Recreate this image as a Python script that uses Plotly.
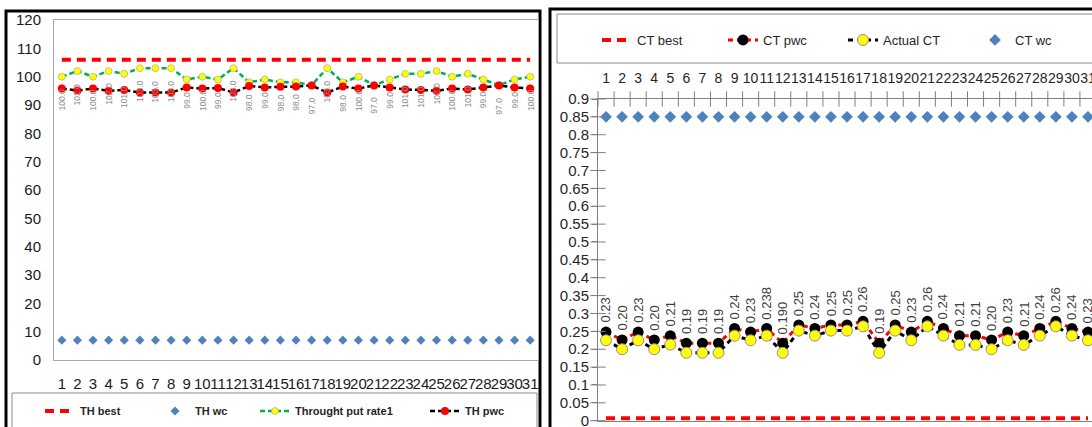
import plotly.graph_objects as go

W, H = 1092, 427
FONT = "Liberation Sans, Arial, sans-serif"

def fx(p):
    return p / W

def fy(p):
    return (H - p) / H

# ---------------- data: left chart (throughput) ----------------
days = list(range(1, 32))
day_labels = [str(d) for d in days]

th_best = [106, 106, 106, 106, 106, 106, 106, 106, 106, 106, 106, 106, 106, 106, 106, 106,
           106, 106, 106, 106, 106, 106, 106, 106, 106, 106, 106, 106, 106, 106, 106]
th_wc = [7, 7, 7, 7, 7, 7, 7, 7, 7, 7, 7, 7, 7, 7, 7, 7,
         7, 7, 7, 7, 7, 7, 7, 7, 7, 7, 7, 7, 7, 7, 7]
throughput = [100, 102, 100, 102, 101, 103, 103, 103, 99, 100, 99, 103, 98, 99, 98, 98,
              97, 103, 98, 100, 97, 99, 101, 101, 102, 100, 101, 99, 97, 99, 100]
th_pwc = [95.8, 95.1, 95.8, 95.0, 95.3, 94.4, 94.4, 94.4, 96.2, 95.8, 96.0, 94.4, 96.7, 96.2, 96.4, 96.5,
          96.9, 94.4, 96.5, 95.8, 96.9, 96.2, 95.5, 95.3, 95.0, 95.8, 95.5, 96.2, 96.9, 96.2, 95.8]

left_yticks = [0, 10, 20, 30, 40, 50, 60, 70, 80, 90, 100, 110, 120]

# ---------------- data: right chart (cycle time) ----------------
ct_best = [0.007, 0.007, 0.007, 0.007, 0.007, 0.007, 0.007, 0.007, 0.007, 0.007, 0.007, 0.007, 0.007, 0.007, 0.007, 0.007,
           0.007, 0.007, 0.007, 0.007, 0.007, 0.007, 0.007, 0.007, 0.007, 0.007, 0.007, 0.007, 0.007, 0.007, 0.007]
ct_wc = [0.85, 0.85, 0.85, 0.85, 0.85, 0.85, 0.85, 0.85, 0.85, 0.85, 0.85, 0.85, 0.85, 0.85, 0.85, 0.85,
         0.85, 0.85, 0.85, 0.85, 0.85, 0.85, 0.85, 0.85, 0.85, 0.85, 0.85, 0.85, 0.85, 0.85, 0.85]
actual_ct = [0.225, 0.200, 0.225, 0.200, 0.213, 0.190, 0.190, 0.190, 0.238, 0.225, 0.238, 0.190, 0.252, 0.238, 0.252, 0.252,
             0.264, 0.190, 0.252, 0.225, 0.264, 0.238, 0.212, 0.212, 0.200, 0.225, 0.212, 0.238, 0.264, 0.238, 0.225]
ct_pwc = [0.248, 0.226, 0.248, 0.226, 0.238, 0.217, 0.217, 0.217, 0.258, 0.248, 0.258, 0.217, 0.268, 0.258, 0.268, 0.268,
          0.278, 0.217, 0.268, 0.248, 0.278, 0.258, 0.238, 0.238, 0.226, 0.248, 0.238, 0.258, 0.278, 0.258, 0.248]
actual_ct_labels = ["0.23", "0.20", "0.23", "0.20", "0.21", "0.19", "0.19", "0.19", "0.24", "0.23", "0.238", "0.190",
                    "0.25", "0.24", "0.25", "0.25", "0.26", "0.19", "0.25", "0.23", "0.26", "0.24", "0.21", "0.21",
                    "0.20", "0.23", "0.21", "0.24", "0.26", "0.24", "0.23"]
right_yticks = [0, 0.05, 0.1, 0.15, 0.2, 0.25, 0.3, 0.35, 0.4, 0.45, 0.5, 0.55, 0.6, 0.65, 0.7, 0.75, 0.8, 0.85, 0.9]
right_ytick_text = ["0", "0.05", "0.1", "0.15", "0.2", "0.25", "0.3", "0.35", "0.4", "0.45", "0.5", "0.55",
                    "0.6", "0.65", "0.7", "0.75", "0.8", "0.85", "0.9"]

fig = go.Figure()

# ---------- left chart traces ----------
fig.add_trace(go.Scatter(x=days, y=th_best, mode="lines", name="TH best",
                         line=dict(color="#ff0000", width=4, dash="9px,6px"),
                         xaxis="x", yaxis="y", legend="legend"))
fig.add_trace(go.Scatter(x=days, y=th_wc, mode="markers", name="TH wc",
                         marker=dict(symbol="diamond", color="#4f81bd", size=7),
                         xaxis="x", yaxis="y", legend="legend2"))
fig.add_trace(go.Scatter(x=days, y=throughput, mode="lines+markers", name="Throught put rate1",
                         line=dict(color="#00b050", width=2.5, dash="5px,3px"),
                         marker=dict(symbol="circle", color="#ffff00", size=7,
                                     line=dict(color="#a0a0a0", width=0.6)),
                         xaxis="x", yaxis="y", legend="legend3"))
fig.add_trace(go.Scatter(x=days, y=th_pwc, mode="lines+markers", name="TH pwc",
                         line=dict(color="#000000", width=2.5, dash="5px,3px"),
                         marker=dict(symbol="circle", color="#ff0000", size=8),
                         xaxis="x", yaxis="y", legend="legend4"))

# ---------- right chart traces ----------
fig.add_trace(go.Scatter(x=days, y=ct_best, mode="lines", name="CT best",
                         line=dict(color="#ff0000", width=4, dash="9px,6px"),
                         xaxis="x2", yaxis="y2", legend="legend5", cliponaxis=False))
fig.add_trace(go.Scatter(x=days, y=ct_pwc, mode="lines+markers", name="CT pwc",
                         line=dict(color="#ff0000", width=3, dash="5px,4px"),
                         marker=dict(symbol="circle", color="#000000", size=11),
                         xaxis="x2", yaxis="y2", legend="legend6"))
fig.add_trace(go.Scatter(x=days, y=actual_ct, mode="lines+markers", name="Actual CT",
                         line=dict(color="#000000", width=3, dash="5px,4px"),
                         marker=dict(symbol="circle", color="#ffff00", size=11,
                                     line=dict(color="#a08898", width=1)),
                         xaxis="x2", yaxis="y2", legend="legend7"))
fig.add_trace(go.Scatter(x=days, y=ct_wc, mode="markers", name="CT wc",
                         marker=dict(symbol="diamond", color="#4f81bd", size=9),
                         xaxis="x2", yaxis="y2", legend="legend8"))

# cross tick marks for the right chart (category boundaries on top axis, value ticks on left axis)
boundaries = [d - 0.5 for d in days] + [days[-1] + 0.5]
fig.add_trace(go.Scatter(x=boundaries, y=[right_yticks[-1]] * len(boundaries), mode="markers",
                         marker=dict(symbol="line-ns", size=11, line=dict(color="#7f7f7f", width=1)),
                         xaxis="x2", yaxis="y2", showlegend=False, cliponaxis=False, hoverinfo="skip"))
fig.add_trace(go.Scatter(x=[0.5] * len(right_yticks), y=right_yticks, mode="markers",
                         marker=dict(symbol="line-ew", size=11, line=dict(color="#7f7f7f", width=1)),
                         xaxis="x2", yaxis="y2", showlegend=False, cliponaxis=False, hoverinfo="skip"))

annotations = []
for d, v in zip(days, throughput):
    annotations.append(dict(x=d, y=v, xref="x", yref="y", text=f"{v:.1f}", showarrow=False,
                            textangle=-90, yanchor="top", yshift=-10,
                            font=dict(family=FONT, size=8.5, color="#8c8c8c")))
for d, v, lab in zip(days, ct_pwc, actual_ct_labels):
    annotations.append(dict(x=d, y=v, xref="x2", yref="y2", text=lab, showarrow=False,
                            textangle=-90, yanchor="bottom", yshift=7,
                            font=dict(family=FONT, size=13, color="#404040")))

shapes = [
    # left chart outer frame
    dict(type="rect", xref="paper", yref="paper", x0=fx(6), x1=fx(540), y0=fy(440), y1=fy(11),
         line=dict(color="#000000", width=3), layer="below"),
    # left legend box
    dict(type="rect", xref="paper", yref="paper", x0=fx(12), x1=fx(537), y0=fy(440), y1=fy(393),
         line=dict(color="#8c8c8c", width=1), layer="below"),
    # right chart outer frame
    dict(type="rect", xref="paper", yref="paper", x0=fx(550), x1=fx(1110), y0=fy(440), y1=fy(9),
         line=dict(color="#000000", width=3), layer="below"),
    # right legend box
    dict(type="rect", xref="paper", yref="paper", x0=fx(557), x1=fx(1110), y0=fy(63), y1=fy(14),
         line=dict(color="#8c8c8c", width=1), layer="below"),
]

def legend_at(px_x, px_y, size, bold=False, color="#262626"):
    return dict(x=fx(px_x), y=fy(px_y), xanchor="left", yanchor="middle", orientation="h",
                bgcolor="rgba(0,0,0,0)", borderwidth=0,
                font=dict(family=FONT, size=size, color=color,
                          weight="bold" if bold else "normal"))

fig.update_layout(
    width=W, height=H,
    margin=dict(l=0, r=0, t=0, b=0, autoexpand=False),
    paper_bgcolor="white", plot_bgcolor="white",
    font=dict(family=FONT, color="#1a1a1a"),
    xaxis=dict(domain=[fx(54), fx(538)], range=[0.5, 31.5], tickvals=days, ticktext=day_labels,
               tickangle=0, automargin=False, ticklabeloverflow="allow",
               showgrid=False, zeroline=False, showline=True, mirror=True, linecolor="#a6a6a6",
               ticks="outside", ticklen=10, tickcolor="rgba(0,0,0,0)",
               tickfont=dict(family=FONT, size=15, color="#1a1a1a"), anchor="y"),
    yaxis=dict(domain=[fy(360), fy(20)], range=[0, 120], tickvals=left_yticks, automargin=False,
               ticklabeloverflow="allow",
               showgrid=False, zeroline=False, showline=True, mirror=True, linecolor="#a6a6a6",
               ticks="outside", ticklen=9, tickcolor="rgba(0,0,0,0)",
               tickfont=dict(family=FONT, size=15, color="#1a1a1a"), anchor="x"),
    xaxis2=dict(domain=[fx(598), 1.0], range=[0.5, 31.25], tickvals=days, ticktext=day_labels,
                tickangle=0, automargin=False, ticklabeloverflow="allow",
                side="top", showgrid=False, zeroline=False, showline=True, mirror=True,
                linecolor="#7f7f7f", ticks="outside", ticklen=9, tickcolor="rgba(0,0,0,0)",
                tickfont=dict(family=FONT, size=14, color="#262626"), anchor="y2"),
    yaxis2=dict(domain=[fy(420.7), fy(99)], range=[0, 0.9], tickvals=right_yticks, ticktext=right_ytick_text,
                automargin=False, ticklabeloverflow="allow",
                showgrid=False, zeroline=False, showline=True, linecolor="#7f7f7f",
                ticks="outside", ticklen=5, tickcolor="#7f7f7f",
                tickfont=dict(family=FONT, size=15, color="#262626"), anchor="x2"),
    legend=legend_at(40, 411, 11, bold=True),
    legend2=legend_at(155, 411, 11, bold=True),
    legend3=legend_at(255, 411, 11, bold=True),
    legend4=legend_at(425, 411, 11, bold=True),
    legend5=legend_at(597, 40, 13),
    legend6=legend_at(723, 40, 13),
    legend7=legend_at(843, 40, 13),
    legend8=legend_at(975, 40, 13),
    annotations=annotations,
    shapes=shapes,
    showlegend=True,
)

fig.write_html("out.html")
